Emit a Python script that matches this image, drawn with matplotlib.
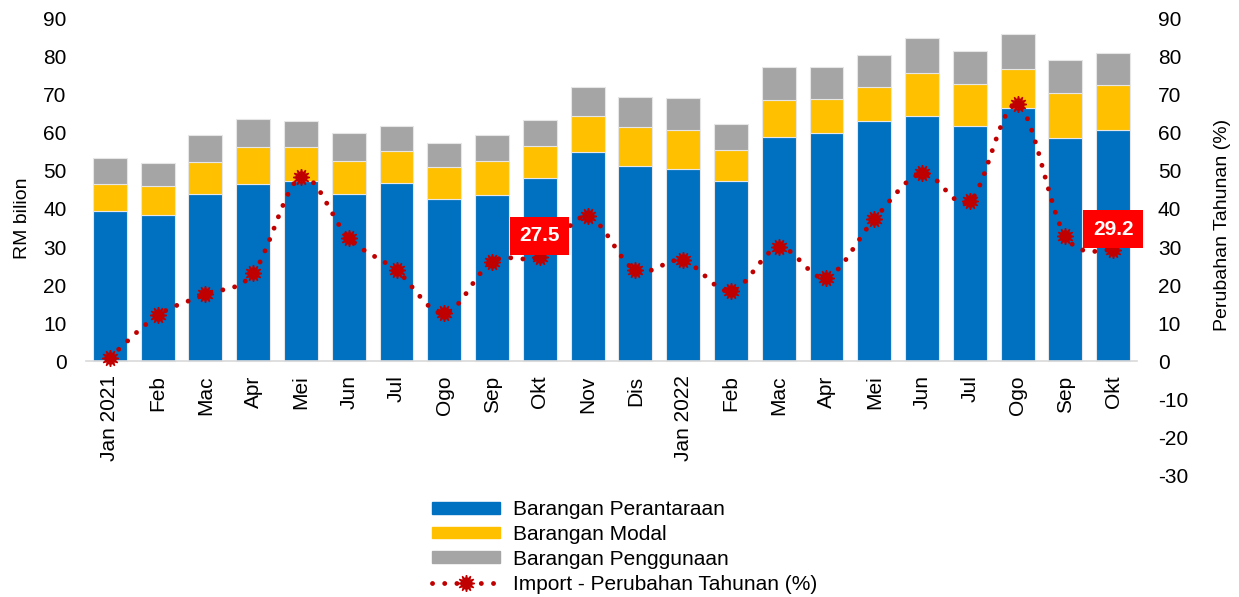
import numpy as np
import matplotlib
matplotlib.use("Agg")
import matplotlib.pyplot as plt
from matplotlib.path import Path
from matplotlib.patches import PathPatch, Patch
from matplotlib.lines import Line2D

plt.rcParams["font.family"] = ["Liberation Sans", "DejaVu Sans"]
plt.rcParams["axes.unicode_minus"] = False

# ── Data ────────────────────────────────────────────────────────────────────
months = ["Jan 2021", "Feb", "Mac", "Apr", "Mei", "Jun", "Jul", "Ogo", "Sep", "Okt",
          "Nov", "Dis", "Jan 2022", "Feb", "Mac", "Apr", "Mei", "Jun", "Jul", "Ogo",
          "Sep", "Okt"]
perantaraan = [39.4, 38.3, 43.8, 46.4, 47.2, 43.8, 46.7, 42.5, 43.6, 48.0, 54.8,
               51.2, 50.4, 47.2, 58.8, 59.8, 63.0, 64.3, 61.7, 66.4, 58.5, 60.6]
modal = [7.0, 7.6, 8.4, 9.8, 9.0, 8.7, 8.4, 8.4, 8.9, 8.4, 9.5,
         10.2, 10.2, 8.2, 9.7, 8.9, 8.9, 11.3, 11.0, 10.2, 11.8, 11.8]
penggunaan = [6.9, 6.1, 7.1, 7.3, 6.8, 7.3, 6.6, 6.3, 6.8, 6.8, 7.6,
              7.9, 8.4, 6.8, 8.6, 8.4, 8.4, 9.2, 8.6, 9.2, 8.7, 8.4]
yoy = [1.0, 12.1, 17.6, 23.1, 48.3, 32.3, 23.9, 12.6, 26.2, 27.5, 38.0,
       23.9, 26.5, 18.4, 29.9, 22.0, 37.3, 49.3, 42.0, 67.4, 32.8, 29.2]
labelled = [9, 21]

C_BLUE, C_YEL, C_GRAY = "#0070C0", "#FFC000", "#A5A5A5"
C_LINE, C_BOX = "#C00000", "#FF0000"
FS = 15

# ── Figure ──────────────────────────────────────────────────────────────────
fig = plt.figure(figsize=(12.39, 5.97), dpi=100)
ax = fig.add_axes([0.0694, 0.2027, 0.8483, 0.7671])
ax2 = ax.twinx()

x = np.arange(len(months))
w = 0.71
p = np.array(perantaraan)
m = np.array(modal)
g = np.array(penggunaan)
ax.bar(x, p, w, color=C_BLUE, edgecolor="#E6E6E6", linewidth=0.8, zorder=2)
ax.bar(x, m, w, bottom=p, color=C_YEL, edgecolor="#E6E6E6", linewidth=0.8, zorder=2)
ax.bar(x, g, w, bottom=p + m, color=C_GRAY, edgecolor="#E6E6E6", linewidth=0.8, zorder=2)

for s in ["top", "left", "right"]:
    ax.spines[s].set_visible(False)
ax.spines["bottom"].set_position(("data", 0))
ax.spines["bottom"].set_color("#D9D9D9")
ax.spines["bottom"].set_linewidth(1.2)

ax.set_xlim(-0.5, len(months) - 0.5)
ax.set_ylim(-30, 90)
ax.set_yticks(range(0, 91, 10))
ax.set_xticks(x)
ax.set_xticklabels(months)
ax.tick_params(axis="x", length=0, pad=10, labelsize=FS, labelrotation=90)
ax.tick_params(axis="y", length=0, pad=14, labelsize=FS)
ax.set_ylabel("RM bilion", fontsize=14)
ax.yaxis.set_label_coords(-0.052, 0.563)

# smoothed dotted line (Catmull-Rom drawn as cubic Bezier through data points)
ax2.set_ylim(-30, 90)
ax2.set_yticks(range(-30, 91, 10))
for s in ax2.spines.values():
    s.set_visible(False)
ax2.tick_params(axis="y", length=0, pad=15, labelsize=FS)
ax2.set_ylabel("Perubahan Tahunan (%)", fontsize=14)
ax2.yaxis.set_label_coords(1.073, 0.548)

pts = np.column_stack([x, yoy]).astype(float)
verts = [pts[0]]
codes = [Path.MOVETO]
for i in range(len(pts) - 1):
    p0 = pts[i - 1] if i > 0 else pts[i]
    p1, p2 = pts[i], pts[i + 1]
    p3 = pts[i + 2] if i + 2 < len(pts) else pts[i + 1]
    verts += [p1 + (p2 - p0) / 6, p2 - (p3 - p1) / 6, p2]
    codes += [Path.CURVE4] * 3
ax2.add_patch(PathPatch(Path(verts, codes), fill=False, edgecolor=C_LINE, lw=3.5,
                        linestyle=(0, (0.01, 2.5)), capstyle="round", zorder=3))
ax2.plot(x, yoy, linestyle="none", marker=(12, 1, 0), markersize=12,
         color=C_LINE, zorder=4)

for i in labelled:
    ax2.annotate(f"{yoy[i]:.1f}", (x[i], yoy[i]), xytext=(0, 15), textcoords="offset points",
                 ha="center", va="center", fontsize=FS, fontweight="bold", color="white",
                 bbox=dict(boxstyle="square,pad=0.45", fc=C_BOX, ec="none"), zorder=5,
                 annotation_clip=False)

# legend
handles = [Patch(color=C_BLUE), Patch(color=C_YEL), Patch(color=C_GRAY),
           Line2D([], [], color=C_LINE, lw=3.5, linestyle=(0, (0.01, 2.5)),
                  dash_capstyle="round", marker=(12, 1, 0), markersize=12)]
labels = ["Barangan Perantaraan", "Barangan Modal", "Barangan Penggunaan",
          "Import - Perubahan Tahunan (%)"]
fig.legend(handles, labels, loc="upper left", bbox_to_anchor=(432 / 1239, 1 - 500 / 597),
           frameon=False, fontsize=FS, borderpad=0, borderaxespad=0, handlelength=3.27,
           handleheight=0.5, handletextpad=0.62, labelspacing=0.28, numpoints=1)

fig.savefig("out.png", dpi=100)
